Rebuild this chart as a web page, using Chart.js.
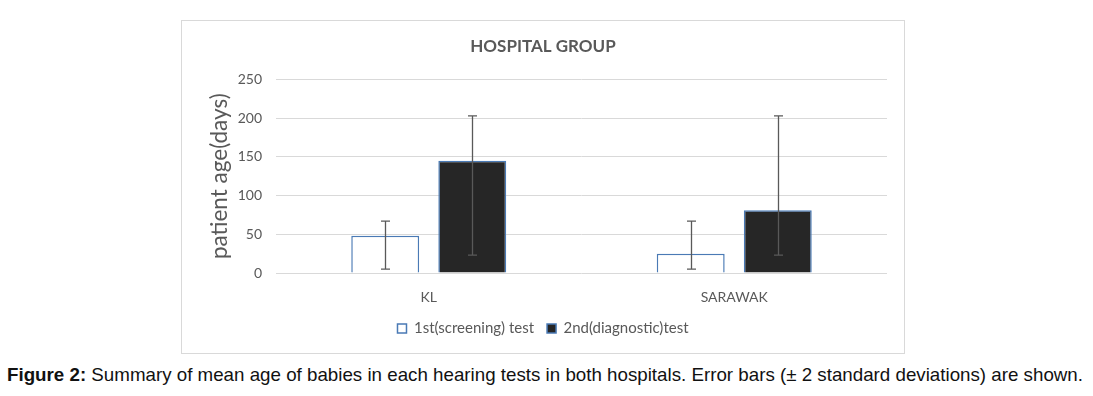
<!DOCTYPE html>
<html>
<head>
<meta charset="utf-8">
<script src="https://cdn.jsdelivr.net/npm/chart.js@4"></script>
<style>
  html, body { margin: 0; padding: 0; background: #fff; width: 1093px; height: 396px; overflow: hidden; }
  #box { position: absolute; left: 181px; top: 20px; width: 722px; height: 332px; border: 1px solid #d9d9d9; }
  #caption { position: absolute; left: 7px; top: 364px; font-family: "Liberation Sans", Arial, sans-serif; font-size: 18.5px; color: #111; white-space: nowrap; transform-origin: 0 0; }
  #caption b { font-weight: bold; }
</style>
</head>
<body>
<div id="box"><canvas id="c" width="722" height="332"></canvas></div>
<div id="caption"><b>Figure 2:</b> Summary of mean age of babies in each hearing tests in both hospitals. Error bars (± 2 standard deviations) are shown.</div>
<script>
const categories = ['KL', 'SARAWAK'];
const seriesNames = ['1st(screening) test', '2nd(diagnostic)test'];
const screeningMean = [48, 25];
const diagnosticMean = [145, 81];
const screeningLow = [5, 5];
const screeningHigh = [67, 67];
const diagnosticLow = [23, 23];
const diagnosticHigh = [203, 203];
const yTicks = [0, 50, 100, 150, 200, 250];

const errorRanges = [
  { low: screeningLow, high: screeningHigh },
  { low: diagnosticLow, high: diagnosticHigh }
];

const errorBarPlugin = {
  id: 'errorBars',
  afterDatasetsDraw(chart) {
    const ctx = chart.ctx;
    const yScale = chart.scales.y;
    ctx.save();
    ctx.strokeStyle = '#595959';
    ctx.lineWidth = 1.3;
    chart.data.datasets.forEach((ds, di) => {
      const meta = chart.getDatasetMeta(di);
      meta.data.forEach((bar, i) => {
        const x = Math.round(bar.x) + 0.5;
        const yh = yScale.getPixelForValue(errorRanges[di].high[i]);
        const yl = yScale.getPixelForValue(errorRanges[di].low[i]);
        const w = 4.5;
        ctx.beginPath();
        ctx.moveTo(x, yh); ctx.lineTo(x, yl);
        ctx.moveTo(x - w, yh); ctx.lineTo(x + w, yh);
        ctx.moveTo(x - w, yl); ctx.lineTo(x + w, yl);
        ctx.stroke();
      });
    });
    ctx.restore();
  }
};

const textColor = '#595959';
const fontFam = 'Lato, "Open Sans", sans-serif';

new Chart(document.getElementById('c'), {
  type: 'bar',
  data: {
    labels: categories,
    datasets: [
      { label: seriesNames[0], data: screeningMean, backgroundColor: '#ffffff', borderColor: '#4a7ab5', borderWidth: 1.5 },
      { label: seriesNames[1], data: diagnosticMean, backgroundColor: '#262626', borderColor: '#4a7ab5', borderWidth: 1.5 }
    ]
  },
  options: {
    responsive: false,
    animation: false,
    devicePixelRatio: 1,
    categoryPercentage: 0.57,
    barPercentage: 0.78,
    layout: { padding: { left: 0, right: 0, top: 0, bottom: 7 } },
    plugins: {
      title: {
        display: true,
        text: 'HOSPITAL GROUP',
        color: textColor,
        font: { family: fontFam, size: 17, weight: 'bold' },
        padding: { top: 15, bottom: 23 }
      },
      legend: {
        position: 'bottom',
        labels: {
          color: textColor,
          font: { family: fontFam, size: 15 },
          boxWidth: 9,
          boxHeight: 9,
          padding: 13
        }
      },
      tooltip: { enabled: false }
    },
    scales: {
      x: {
        grid: { display: false, drawTicks: false },
        border: { display: false },
        ticks: { color: textColor, font: { family: fontFam, size: 14 }, padding: 16 },
        afterFit(s) { s.height = 35; }
      },
      y: {
        min: 0, max: 250,
        afterBuildTicks(s) { s.ticks = yTicks.map(v => ({ value: v })); },
        grid: { color: '#d9d9d9', lineWidth: 1, drawTicks: false },
        border: { display: false },
        ticks: { color: textColor, font: { family: fontFam, size: 14 }, padding: 14 },
        title: {
          display: true,
          text: 'patient age(days)',
          color: textColor,
          font: { family: fontFam, size: 22.5 },
          padding: { top: 24, bottom: 0 }
        },
        afterFit(s) { s.width = 94; }
      },
      yPad: {
        position: 'right',
        display: true,
        grid: { display: false, drawTicks: false },
        border: { display: false },
        ticks: { display: false },
        afterFit(s) { s.width = 17; }
      }
    }
  },
  plugins: [errorBarPlugin]
});

const cap = document.getElementById('caption');
const w = cap.getBoundingClientRect().width;
cap.style.transform = 'scaleX(' + (1076 / w) + ')';
</script>
</body>
</html>
